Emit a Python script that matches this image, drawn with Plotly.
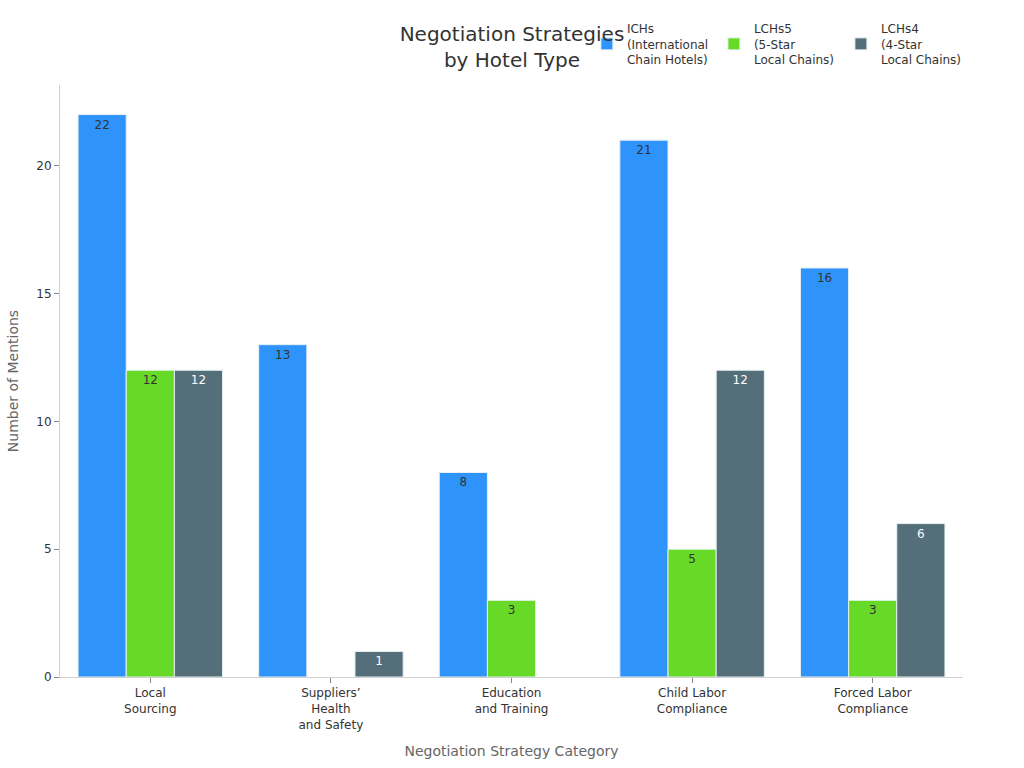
import plotly.graph_objects as go

categories = ["Local<br>Sourcing", "Suppliers’<br>Health<br>and Safety", "Education<br>and Training",
              "Child Labor<br>Compliance", "Forced Labor<br>Compliance"]
series_names = ["ICHs<br>(International<br>Chain Hotels)", "LCHs5<br>(5-Star<br>Local Chains)",
                "LCHs4<br>(4-Star<br>Local Chains)"]
ichs = [22, 13, 8, 21, 16]
lchs5 = [12, 0, 3, 5, 3]
lchs4 = [12, 1, 0, 12, 6]

colors = ["#2E93FA", "#66DA26", "#546E7A"]
text_colors = ["#333333", "#333333", "#ffffff"]

fig = go.Figure()
for name, vals, c, tc in zip(series_names, [ichs, lchs5, lchs4], colors, text_colors):
    fig.add_trace(go.Bar(
        x=categories, y=vals, name=name,
        marker=dict(color=c, line=dict(color=["#e6f0f5" if v else "rgba(0,0,0,0)" for v in vals], width=1)),
        text=[str(v) if v else "" for v in vals],
        textposition="inside", insidetextanchor="end",
        textfont=dict(color=tc, size=12),
        textangle=0,
    ))

fig.update_layout(
    width=1024, height=768,
    barmode="group", bargap=0.2, bargroupgap=0,
    font=dict(family="DejaVu Sans", size=12, color="#333333"),
    paper_bgcolor="white", plot_bgcolor="white",
    margin=dict(l=60, r=61, t=85, b=91),
    title=dict(text="Negotiation Strategies<br>by Hotel Type", x=0.5, xanchor="center",
               y=0.946, yanchor="middle", font=dict(size=20, color="#333333")),
    legend=dict(orientation="h", x=0.5835, xanchor="left", y=1.12, yanchor="top",
                font=dict(size=12, color="#333333"), entrywidth=82, entrywidthmode="pixels",
                bgcolor="rgba(0,0,0,0)"),
    showlegend=True,
    uniformtext=dict(mode="show", minsize=8),
)
fig.update_xaxes(
    title=dict(text="Negotiation Strategy Category", font=dict(size=14, color="#666666"), standoff=15),
    showline=True, linecolor="#d0d0d0", linewidth=1,
    ticks="outside", tickcolor="#888888", ticklen=5,
    showgrid=False, tickfont=dict(size=12, color="#333333"),
)
fig.update_yaxes(
    title=dict(text="Number of Mentions", font=dict(size=14, color="#666666"), standoff=14),
    showline=True, linecolor="#d0d0d0", linewidth=1,
    ticks="outside", tickcolor="#888888", ticklen=5,
    showgrid=False, zeroline=False, tickvals=[0, 5, 10, 15, 20],
    tickfont=dict(size=12, color="#333333"),
)

fig.write_html("out.html")
